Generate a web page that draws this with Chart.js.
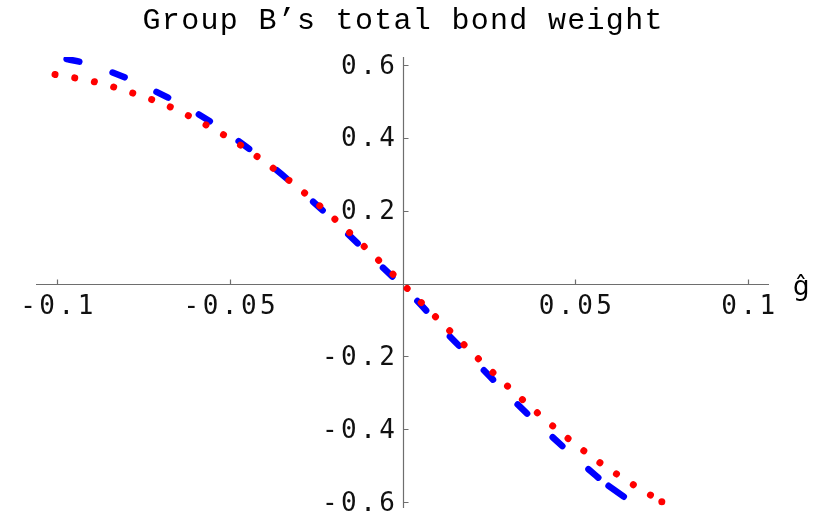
<!DOCTYPE html>
<html>
<head>
<meta charset="utf-8">
<script src="https://cdn.jsdelivr.net/npm/chart.js@4"></script>
<style>
  html, body { margin: 0; padding: 0; background: #fff; }
  canvas { display: block; }
</style>
</head>
<body>
<canvas id="bondChart" width="821" height="515"></canvas>
<script>
// values
const titleText = 'Group B\u2019s total bond weight';
const xAxisLabel = '\u011d';

const xTicks = [-0.1, -0.05, 0.05, 0.1];
const xTickLabels = ['-0.1', '-0.05', '0.05', '0.1'];
const yTicks = [0.6, 0.4, 0.2, -0.2, -0.4, -0.6];
const yTickLabels = ['0.6', '0.4', '0.2', '-0.2', '-0.4', '-0.6'];

// blue dashed curve
const blueX = [-0.098, -0.0926, -0.084, -0.072, -0.059, -0.048, -0.037, -0.026, -0.016, -0.006,
               0.004, 0.013, 0.023, 0.033, 0.043, 0.053, 0.0574];
const blueY = [0.618, 0.607, 0.580, 0.530, 0.465, 0.395, 0.316, 0.226, 0.138, 0.047,
               -0.045, -0.138, -0.233, -0.329, -0.418, -0.503, -0.539];
// last short blue piece at the lower end
const blueTailX = [0.0596, 0.0640];
const blueTailY = [-0.555, -0.585];

// red dotted curve
const redX = [-0.1005, -0.0891, -0.0780, -0.0672, -0.0569, -0.0470, -0.0376, -0.0285, -0.0197, -0.0113,
              -0.0030, 0.0052, 0.0135, 0.0217, 0.0301, 0.0388, 0.0476, 0.0567, 0.0664, 0.0750];
const redY = [0.574, 0.554, 0.523, 0.485, 0.436, 0.381, 0.318, 0.250, 0.178, 0.104,
              0.028, -0.050, -0.128, -0.204, -0.279, -0.353, -0.423, -0.489, -0.550, -0.599];

const toPoints = (xs, ys) => xs.map((x, i) => ({ x: x, y: ys[i] }));

// axes crossing at the origin, Mathematica style
const originAxes = {
    id: 'originAxes',
    beforeDatasetsDraw(chart) {
        const ctx = chart.ctx;
        const area = chart.chartArea;
        const xs = chart.scales.x, ys = chart.scales.y;
        const x0 = Math.round(xs.getPixelForValue(0)) + 0.5;
        const y0 = Math.round(ys.getPixelForValue(0)) + 0.5;

        ctx.save();
        ctx.strokeStyle = '#6e6e6e';
        ctx.lineWidth = 1.2;
        ctx.beginPath();
        ctx.moveTo(area.left, y0);
        ctx.lineTo(area.right, y0);
        ctx.moveTo(x0, area.top);
        ctx.lineTo(x0, area.bottom);
        xTicks.forEach(v => {
            const px = Math.round(xs.getPixelForValue(v)) + 0.5;
            ctx.moveTo(px, y0);
            ctx.lineTo(px, y0 - 5);
        });
        yTicks.forEach(v => {
            const py = Math.round(ys.getPixelForValue(v)) + 0.5;
            ctx.moveTo(x0, py);
            ctx.lineTo(x0 + 5, py);
        });
        ctx.stroke();

        ctx.fillStyle = '#111';
        ctx.font = '26px "DejaVu Sans Mono"';
        ctx.letterSpacing = '3.5px';
        ctx.textBaseline = 'alphabetic';
        ctx.textAlign = 'center';
        xTicks.forEach((v, i) => {
            ctx.fillText(xTickLabels[i], xs.getPixelForValue(v) + 1.75, y0 + 29.5);
        });
        ctx.textAlign = 'right';
        yTicks.forEach((v, i) => {
            ctx.fillText(yTickLabels[i], x0 - 5, ys.getPixelForValue(v) + 8.5);
        });

        ctx.fillStyle = '#000';
        ctx.letterSpacing = '0px';
        ctx.textAlign = 'left';
        ctx.font = '26px "DejaVu Sans"';
        ctx.fillText(xAxisLabel, area.right + 24, y0 + 10);

        ctx.font = '30px "Liberation Mono"';
        ctx.letterSpacing = '1.3px';
        ctx.textAlign = 'center';
        ctx.fillText(titleText, (area.left + area.right) / 2 + 0.65, 28.5);
        ctx.restore();
    }
};

const lastDot = c => (c.dataIndex === redX.length - 1 ? 3.5 : 0);

new Chart(document.getElementById('bondChart'), {
    type: 'scatter',
    data: {
        datasets: [{
            label: 'red',
            data: toPoints(redX, redY),
            showLine: true,
            borderColor: '#ff0000',
            backgroundColor: '#ff0000',
            borderWidth: 7,
            borderDash: [0.01, 20],
            borderCapStyle: 'round',
            cubicInterpolationMode: 'monotone',
            pointRadius: lastDot,
            pointBorderWidth: 0
        }, {
            label: 'blue',
            data: toPoints(blueX, blueY),
            showLine: true,
            borderColor: '#0000ff',
            borderWidth: 6.5,
            borderDash: [13, 35],
            borderDashOffset: -3,
            borderCapStyle: 'round',
            cubicInterpolationMode: 'monotone',
            pointRadius: 0
        }, {
            label: 'blue tail',
            data: toPoints(blueTailX, blueTailY),
            showLine: true,
            borderColor: '#0000ff',
            borderWidth: 6.5,
            borderCapStyle: 'round',
            pointRadius: 0
        }]
    },
    options: {
        responsive: false,
        animation: false,
        devicePixelRatio: 1,
        layout: {
            padding: { left: 36, right: 52, top: 57, bottom: 7 }
        },
        scales: {
            x: { type: 'linear', min: -0.106, max: 0.106, display: false },
            y: { type: 'linear', min: -0.616, max: 0.622, display: false }
        },
        plugins: {
            legend: { display: false },
            tooltip: { enabled: false },
            title: { display: false }
        }
    },
    plugins: [originAxes]
});
</script>
</body>
</html>
